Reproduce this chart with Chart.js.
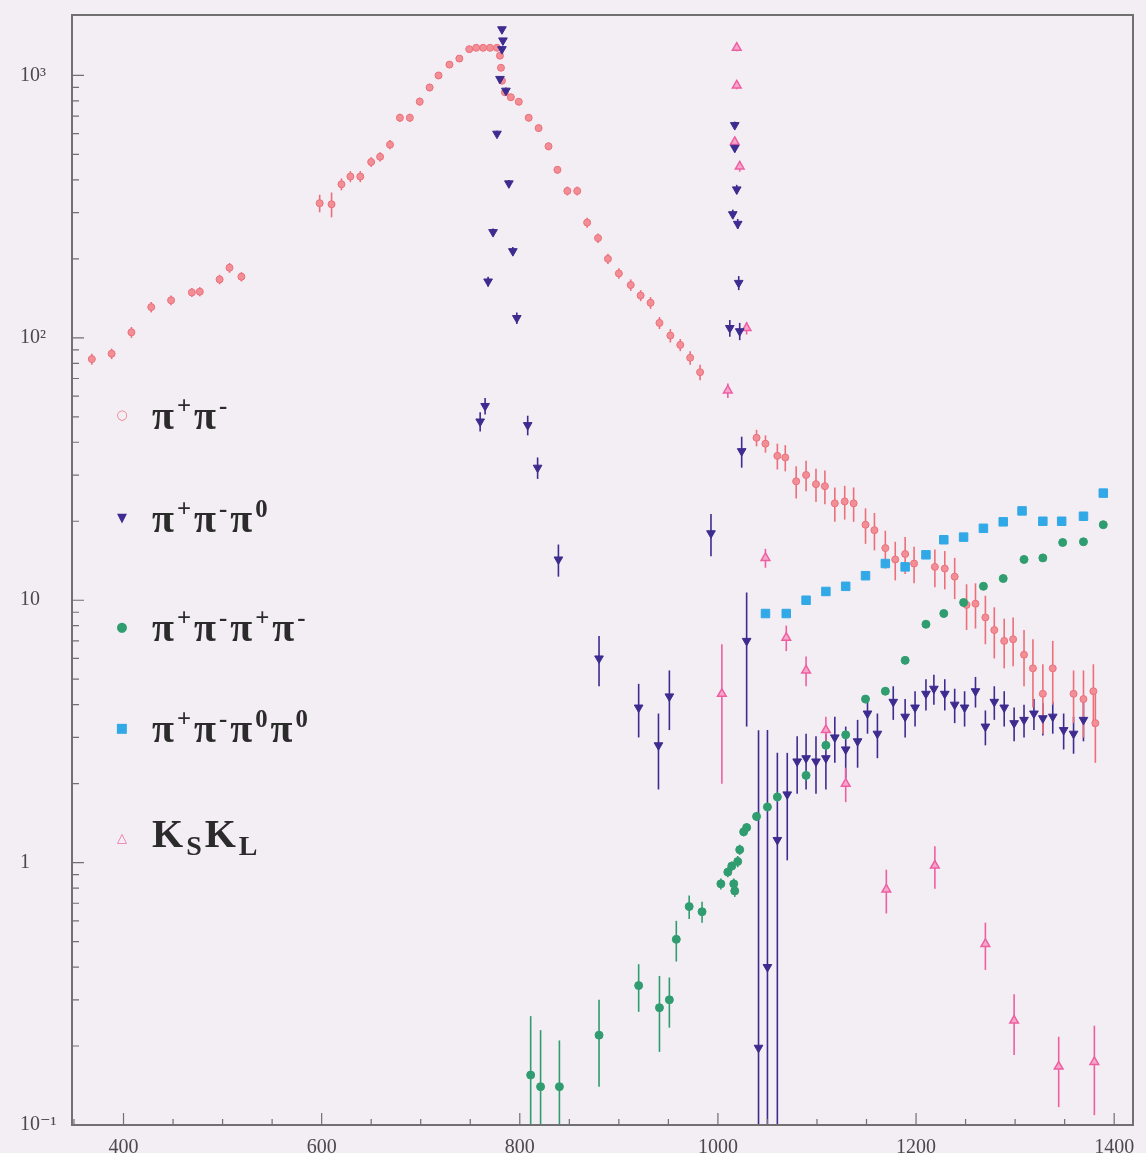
<!DOCTYPE html>
<html>
<head>
<meta charset="utf-8">
<title>e+e- hadronic cross sections</title>
<script src="https://cdn.jsdelivr.net/npm/chart.js@4.4.1/dist/chart.umd.min.js"></script>
<style>
  html, body { margin: 0; padding: 0; background: #f3edf4; }
  #wrap { position: relative; width: 1146px; height: 1153px; }
  #legend { position: absolute; left: 0; top: 0; font-family: "Liberation Serif", "DejaVu Serif", serif; color: #2b2b2b; }
  .item { position: absolute; left: 110px; display: flex; align-items: center; white-space: nowrap; transform: translateY(-50%); }
  .mark { width: 24px; text-align: center; font-family: "DejaVu Sans", sans-serif; font-size: 13px; margin-right: 18px; }
  .lbl { font-size: 40px; line-height: 1; font-weight: bold; letter-spacing: 3px; }
  .lbl sup { font-size: 0.62em; vertical-align: 0.6em; }
  .lbl sub { font-size: 0.7em; vertical-align: -0.3em; }
</style>
</head>
<body>
<div id="wrap">
  <canvas id="chart" width="1146" height="1153"></canvas>
  <div id="legend">
    <div class="item" style="top:415px"><span class="mark" style="color:#ee7f86">○</span><span class="lbl">π<sup>+</sup>π<sup>-</sup></span></div>
    <div class="item" style="top:518px"><span class="mark" style="color:#3d2c8f">▼</span><span class="lbl">π<sup>+</sup>π<sup>-</sup>π<sup>0</sup></span></div>
    <div class="item" style="top:627px"><span class="mark" style="color:#2f9d6f">●</span><span class="lbl">π<sup>+</sup>π<sup>-</sup>π<sup>+</sup>π<sup>-</sup></span></div>
    <div class="item" style="top:728px"><span class="mark" style="color:#31a9e6">■</span><span class="lbl">π<sup>+</sup>π<sup>-</sup>π<sup>0</sup>π<sup>0</sup></span></div>
    <div class="item" style="top:837px"><span class="mark" style="color:#ef6fab">△</span><span class="lbl">K<sub>S</sub>K<sub>L</sub></span></div>
  </div>
</div>
<script>
// Energy (MeV), cross section (nb) and error for each channel
const pipiE = [368, 388, 408, 428, 448, 469, 477, 497, 507, 519,
  598, 610, 620, 629, 639, 650, 659, 669, 679, 689, 699, 709, 718, 729, 739, 749, 756, 763, 770, 777,
  780, 781, 782, 785, 791, 799, 809, 819, 829, 838, 848, 858, 868, 879, 889,
  900, 912, 922, 932, 941, 952, 962, 972, 982,
  1039, 1048, 1060, 1068, 1079, 1089, 1099, 1108, 1118, 1128, 1137, 1149, 1158, 1169, 1179, 1189, 1198,
  1219, 1229, 1239, 1251, 1260, 1270, 1279, 1289, 1298, 1309, 1318, 1328, 1338, 1359, 1369, 1379, 1381];
const pipiXs = [83, 87, 105, 131, 139, 149, 150, 167, 185, 171,
  326, 323, 385, 412, 412, 468, 490, 545, 690, 690, 795, 900, 1000, 1100, 1160, 1260, 1275, 1275, 1275, 1275,
  1190, 1070, 955, 863, 826, 794, 690, 630, 537, 437, 363, 363, 275, 240, 200,
  176, 159, 145, 136, 114, 102, 94, 84, 74,
  41.6, 39.5, 35.5, 35, 28.4, 30, 27.7, 27.2, 23.4, 23.8, 23.4, 19.4, 18.5, 15.8, 14.3, 15, 13.8,
  13.4, 13.2, 12.3, 9.6, 9.7, 8.6, 7.7, 7.0, 7.1, 6.2, 5.5, 4.4, 5.5, 4.4, 4.2, 4.5, 3.4];
const pipiErr = [4, 4, 5, 6, 6, 6, 6, 7, 8, 7,
  25, 35, 20, 20, 20, 20, 20, 22, 25, 25, 28, 30, 30, 30, 30, 30, 30, 30, 30, 30,
  30, 30, 30, 25, 25, 25, 22, 20, 18, 15, 14, 14, 12, 10, 9,
  8, 8, 7, 7, 6, 6, 5, 5, 5,
  3, 3, 4, 4, 4, 4, 4, 4, 3.5, 3.5, 3.5, 3, 3, 2.6, 2.4, 2.4, 2.2,
  2.2, 2.2, 2.2, 1.9, 1.9, 1.8, 1.7, 1.5, 1.5, 1.5, 1.6, 1.3, 1.5, 1.0, 1.2, 1.2, 1.0];

const threePiE = [760, 765, 768, 773, 777, 780, 782, 783, 782, 786, 789, 793, 797, 808, 818, 839,
  880, 920, 940, 951, 993,
  1012, 1015, 1017, 1017, 1019, 1020, 1021, 1022, 1024, 1029, 1041, 1050, 1060, 1070,
  1080, 1089, 1099, 1109, 1118, 1129, 1141, 1151, 1161, 1177, 1189, 1199, 1210, 1218, 1229, 1239,
  1249, 1260, 1270, 1279, 1289, 1299, 1309, 1319, 1328, 1338, 1349, 1359, 1369];
const threePiXs = [48, 55, 164, 253, 600, 970, 1500, 1360, 1260, 875, 388, 214, 119, 46.5, 32, 14.3,
  6.0, 3.9, 2.8, 4.3, 18,
  109, 296, 647, 530, 368, 272, 162, 106, 37, 7.0, 0.197, 0.40, 1.22, 1.82,
  2.43, 2.5, 2.43, 2.5, 3.0, 2.7, 2.9, 3.7, 3.1, 4.1, 3.6, 3.9, 4.4, 4.6, 4.4, 4.0,
  3.9, 4.5, 3.3, 4.1, 3.9, 3.4, 3.5, 3.7, 3.55, 3.6, 3.2, 3.1, 3.5];
const threePiErr = [4, 4, 7, 8, 15, 25, 30, 30, 30, 25, 12, 8, 6, 4, 3, 2,
  1.3, 0.9, 0.9, 1.1, 3.3,
  8, 12, 20, 20, 15, 12, 10, 8, 5, 3.7, 3.0, 2.8, 1.4, 0.8,
  0.6, 0.6, 0.6, 0.6, 0.6, 0.6, 0.6, 0.6, 0.6, 0.6, 0.6, 0.6, 0.6, 0.6, 0.6, 0.6,
  0.6, 0.6, 0.5, 0.6, 0.6, 0.5, 0.5, 0.5, 0.5, 0.5, 0.5, 0.5, 0.6];

const fourPiE = [811, 821, 840, 880, 920, 941, 951, 958, 971, 984,
  1003, 1010, 1014, 1016, 1017, 1020, 1022, 1026, 1029, 1039, 1050, 1060,
  1089, 1109, 1129, 1149, 1169, 1189, 1210, 1228, 1248, 1268, 1288, 1309, 1328, 1348, 1369, 1389];
const fourPiXs = [0.155, 0.14, 0.14, 0.22, 0.34, 0.28, 0.30, 0.51, 0.68, 0.65,
  0.83, 0.92, 0.97, 0.83, 0.78, 1.01, 1.12, 1.31, 1.36, 1.5, 1.63, 1.78,
  2.15, 2.8, 3.07, 4.2, 4.5, 5.9, 8.1, 8.9, 9.8, 11.3, 12.1, 14.3, 14.5, 16.6, 16.7, 19.4];
const fourPiErr = [0.105, 0.09, 0.07, 0.08, 0.07, 0.09, 0.065, 0.09, 0.07, 0.06,
  0.04, 0.04, 0.04, 0.04, 0.04, 0.05, 0.05, 0.05, 0.05, 0.06, 0.06, 0.07,
  0.1, 0.12, 0.12, 0.15, 0.15, 0.2, 0.25, 0.3, 0.3, 0.35, 0.35, 0.4, 0.4, 0.45, 0.45, 0.5];

const twoPi2Pi0E = [1048, 1069, 1089, 1109, 1129, 1149, 1169, 1189, 1210, 1228,
  1248, 1268, 1288, 1307, 1328, 1347, 1369, 1389];
const twoPi2Pi0Xs = [8.9, 8.9, 10.0, 10.8, 11.3, 12.4, 13.8, 13.4, 14.9, 17,
  17.4, 18.8, 19.9, 21.9, 20, 20, 20.9, 25.6];

const ksklE = [1004, 1010, 1017, 1019, 1019, 1022, 1029, 1048, 1069, 1089, 1109, 1129,
  1170, 1219, 1270, 1299, 1344, 1380];
const ksklXs = [4.4, 63, 558, 1276, 916, 450, 109, 14.5, 7.2, 5.4, 3.2, 2.0,
  0.79, 0.975, 0.49, 0.25, 0.167, 0.174];
const ksklErr = [2.4, 4, 20, 40, 30, 20, 6, 1.2, 0.8, 0.7, 0.4, 0.3,
  0.15, 0.18, 0.1, 0.065, 0.05, 0.065];

const xTickValues = [400, 600, 800, 1000, 1200, 1400];
const yTickValues = [0.1, 1, 10, 100, 1000];
const yTickLabels = ['10⁻¹', '1', '10', '10²', '10³'];

const points = (xs, ys) => xs.map((x, i) => ({ x, y: ys[i] }));

// vertical error bars, drawn under the markers and clipped to the plot box
const errorBars = {
  id: 'errorBars',
  beforeDatasetsDraw(chart) {
    const { ctx, chartArea: a, scales: { x, y } } = chart;
    ctx.save();
    ctx.beginPath();
    ctx.rect(a.left, a.top, a.right - a.left, a.bottom - a.top);
    ctx.clip();
    chart.data.datasets.forEach((ds) => {
      if (!ds.errors) return;
      ctx.strokeStyle = ds.borderColor;
      ctx.lineWidth = 1.6;
      ds.data.forEach((p, i) => {
        const e = ds.errors[i];
        if (!e) return;
        const px = x.getPixelForValue(p.x);
        const top = y.getPixelForValue(p.y + e);
        const lo = p.y - e;
        const bot = lo > y.min ? y.getPixelForValue(lo) : a.bottom;
        ctx.beginPath();
        ctx.moveTo(px, top);
        ctx.lineTo(px, bot);
        ctx.stroke();
      });
    });
    ctx.restore();
  },
};

// box round the plot with inward ticks
const frame = {
  id: 'frame',
  afterDatasetsDraw(chart) {
    const { ctx, chartArea: a, scales: { x, y } } = chart;
    ctx.save();
    ctx.strokeStyle = '#707070';
    ctx.lineWidth = 2;
    ctx.strokeRect(a.left, a.top, a.right - a.left, a.bottom - a.top);
    ctx.lineWidth = 1.2;
    ctx.beginPath();
    for (let k = -1; k <= 3; k++) {
      for (let m = 1; m <= 9; m++) {
        const v = m * Math.pow(10, k);
        if (v < y.min || v > y.max) continue;
        const py = y.getPixelForValue(v);
        ctx.moveTo(a.left, py);
        ctx.lineTo(a.left + (m === 1 ? 12 : 7), py);
      }
    }
    for (let v = 350; v <= 1400; v += 50) {
      const px = x.getPixelForValue(v);
      ctx.moveTo(px, a.bottom);
      ctx.lineTo(px, a.bottom - (v % 200 === 0 ? 12 : 6));
    }
    ctx.stroke();
    ctx.restore();
  },
};

const tickFont = { family: '"Liberation Serif", "DejaVu Serif", serif', size: 20 };

new Chart(document.getElementById('chart'), {
  type: 'scatter',
  data: {
    datasets: [
      {
        label: 'π+π-π0',
        data: points(threePiE, threePiXs),
        errors: threePiErr,
        pointStyle: 'triangle',
        pointRotation: 180,
        pointRadius: 5,
        backgroundColor: '#3d2c8f',
        borderColor: '#3d2c8f',
        borderWidth: 1,
      },
      {
        label: 'KsKl',
        data: points(ksklE, ksklXs),
        errors: ksklErr,
        pointStyle: 'triangle',
        pointRadius: 5,
        backgroundColor: '#f6a6cb',
        borderColor: '#ee5fa2',
        borderWidth: 1.5,
      },
      {
        label: 'π+π-π0π0',
        data: points(twoPi2Pi0E, twoPi2Pi0Xs),
        pointStyle: 'rect',
        pointRadius: 6,
        backgroundColor: '#31a9e6',
        borderColor: '#31a9e6',
        borderWidth: 1,
      },
      {
        label: 'π+π-π+π-',
        data: points(fourPiE, fourPiXs),
        errors: fourPiErr,
        pointStyle: 'circle',
        pointRadius: 4,
        backgroundColor: '#2f9d6f',
        borderColor: '#2f9d6f',
        borderWidth: 1,
      },
      {
        label: 'π+π-',
        data: points(pipiE, pipiXs),
        errors: pipiErr,
        pointStyle: 'circle',
        pointRadius: 3.5,
        backgroundColor: '#f28f96',
        borderColor: '#ec6f7a',
        borderWidth: 1,
      },
    ],
  },
  options: {
    responsive: false,
    devicePixelRatio: 1,
    animation: false,
    layout: { padding: { left: 20, top: 0, right: 13, bottom: 0 } },
    plugins: { legend: { display: false }, tooltip: { enabled: false } },
    scales: {
      x: {
        type: 'linear',
        min: 348,
        max: 1419,
        grid: { display: false },
        border: { display: false },
        ticks: {
          font: tickFont,
          color: '#4a4a4a',
          padding: 3,
          maxRotation: 0,
          autoSkip: false,
          callback: (v) => String(v),
        },
        afterBuildTicks(s) { s.ticks = xTickValues.map((v) => ({ value: v })); },
        afterFit(s) { s.height = 28; },
      },
      y: {
        type: 'logarithmic',
        min: 0.1,
        max: 1700,
        grid: { display: false },
        border: { display: false },
        ticks: {
          font: tickFont,
          color: '#4a4a4a',
          crossAlign: 'far',
          autoSkip: false,
          callback(v) {
            const i = yTickValues.indexOf(v);
            return i >= 0 ? yTickLabels[i] : '';
          },
        },
        afterBuildTicks(s) { s.ticks = yTickValues.map((v) => ({ value: v })); },
        afterFit(s) { s.width = 52; },
      },
    },
  },
  plugins: [errorBars, frame],
});
</script>
</body>
</html>
